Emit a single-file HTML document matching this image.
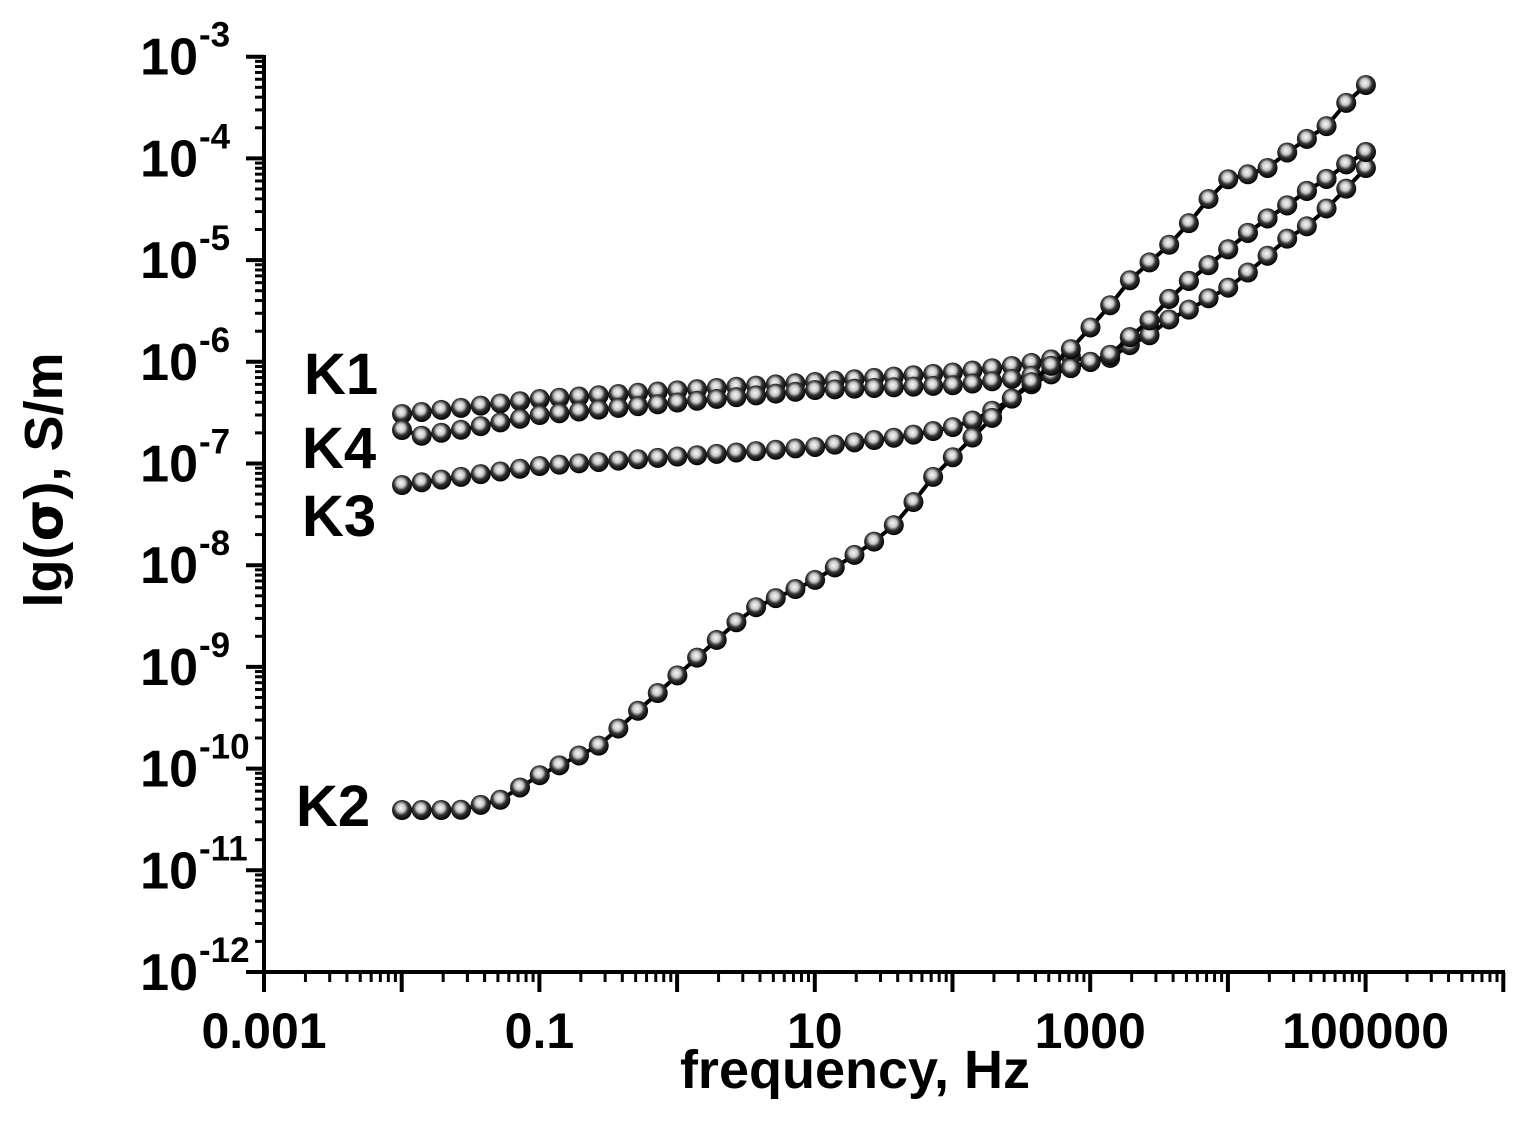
<!DOCTYPE html>
<html><head><meta charset="utf-8"><style>
html,body{margin:0;padding:0;background:#fff}
svg{display:block}
text{font-family:"Liberation Sans",Arial,sans-serif;font-weight:bold;fill:#000}
</style></head><body>
<svg id="s" width="1531" height="1124" viewBox="0 0 1531 1124" xmlns="http://www.w3.org/2000/svg">
<defs>
<radialGradient id="g" cx="0.45" cy="0.4" r="0.6">
<stop offset="0" stop-color="#f8f8f8"/>
<stop offset="0.35" stop-color="#c8c8c8"/>
<stop offset="0.6" stop-color="#333"/>
<stop offset="1" stop-color="#000"/>
</radialGradient>
</defs>
<g id="axes"></g>
<g id="data"></g>
<text x="304" y="394" font-size="58">K1</text>
<text x="302" y="468" font-size="58">K4</text>
<text x="302" y="536" font-size="58">K3</text>
<text x="296" y="826" font-size="58">K2</text>
<text x="855" y="1088" font-size="54" text-anchor="middle">frequency, Hz</text>
<text transform="translate(62,480) rotate(-90)" font-size="54" text-anchor="middle">lg(<tspan font-family="DejaVu Sans">σ</tspan>), S/m</text>
</svg>
<script>
(function(){
const NS="http://www.w3.org/2000/svg";
const ax=document.getElementById('axes'),dg=document.getElementById('data');
function el(t,a,p){const e=document.createElementNS(NS,t);for(const k in a)e.setAttribute(k,a[k]);(p||ax).appendChild(e);return e;}
const X0=264,DX=137.7,Y0=972,DY=101.7;
el('line',{x1:X0,y1:Y0,x2:1505,y2:Y0,stroke:'#000','stroke-width':4});
el('line',{x1:X0,y1:Y0+2,x2:X0,y2:55,stroke:'#000','stroke-width':4});
for(let d=0;d<=9;d++){
 const x=X0+d*DX;
 if(x<=1506) el('line',{x1:x,y1:Y0,x2:x,y2:992,stroke:'#000','stroke-width':4});
 if(d<9)for(let m=2;m<10;m++){const xm=x+Math.log10(m)*DX;if(xm<1506)el('line',{x1:xm,y1:Y0,x2:xm,y2:982,stroke:'#000','stroke-width':3});}
}
const xl=['0.001','0.1','10','1000','100000'];
xl.forEach((t,i)=>{const x=X0+2*i*DX;const tx=el('text',{x:x,y:1048,'font-size':50,'text-anchor':'middle'});tx.textContent=t;});
for(let d=0;d<=9;d++){
 const y=Y0-d*DY;
 el('line',{x1:246,y1:y,x2:X0,y2:y,stroke:'#000','stroke-width':4});
 if(d<9)for(let m=2;m<10;m++){const ym=y-Math.log10(m)*DY;el('line',{x1:255,y1:ym,x2:X0,y2:ym,stroke:'#000','stroke-width':3});}
 const tx=el('text',{x:198,y:y+18,'font-size':52,'text-anchor':'end'});tx.textContent='10';
 const sp=el('text',{x:199,y:y-10,'font-size':35});sp.textContent='-'+(12-d);
}
function interp(a,x){for(let i=0;i<a.length-1;i++){if(x<=a[i+1][0]){const t=(x-a[i][0])/(a[i+1][0]-a[i][0]);return a[i][1]+t*(a[i+1][1]-a[i][1]);}}return a[a.length-1][1];}
const hi=[[1070,350],[1090,328],[1108,308],[1130,280],[1150,262],[1168,246],[1185,228],[1205,203],[1225,180],[1245,175],[1265,170],[1285,154],[1305,140],[1325,128],[1345,104],[1365,85]];
const mid=[[1090,362],[1110,355],[1130,337],[1150,320],[1168,300],[1185,284],[1205,268],[1225,252],[1245,235],[1265,220],[1285,207],[1305,192],[1325,180],[1345,165],[1365,152]];
const low=[[1090,362],[1110,358],[1130,345],[1150,335],[1168,320],[1185,312],[1205,300],[1225,290],[1245,275],[1265,258],[1285,240],[1305,228],[1325,210],[1345,190],[1365,168]];
const series=[
 [[402,414],[460,408],[540,399],[650,392],[815,382],[960,372],[1020,365],[1070,356]].concat(mid),
 [[402,430],[420,436],[460,430],[540,415],[650,405],[815,390],[960,385],[1020,378],[1060,370]].concat(low),
 [[402,485],[540,466],[700,455],[815,447],[900,437],[950,428],[980,418],[1010,400],[1040,378]].concat(mid),
 [[402,810],[460,810],[500,800],[540,775],[600,745],[650,700],[700,655],[750,610],[815,580],[870,545],[900,520],[930,480],[960,450],[985,425],[1010,400],[1040,375]].concat(hi)
];
const step=DX/7;
series.forEach(s=>{
 let pts=[];
 for(let x=402;x<=1366;x+=step)pts.push([x,interp(s,x)]);
 el('polyline',{points:pts.map(p=>p.join(',')).join(' '),fill:'none',stroke:'#000','stroke-width':4},dg);
 pts.forEach(p=>el('circle',{cx:p[0],cy:p[1],r:10,fill:'url(#g)'},dg));
});
})();
</script>
</body></html>
